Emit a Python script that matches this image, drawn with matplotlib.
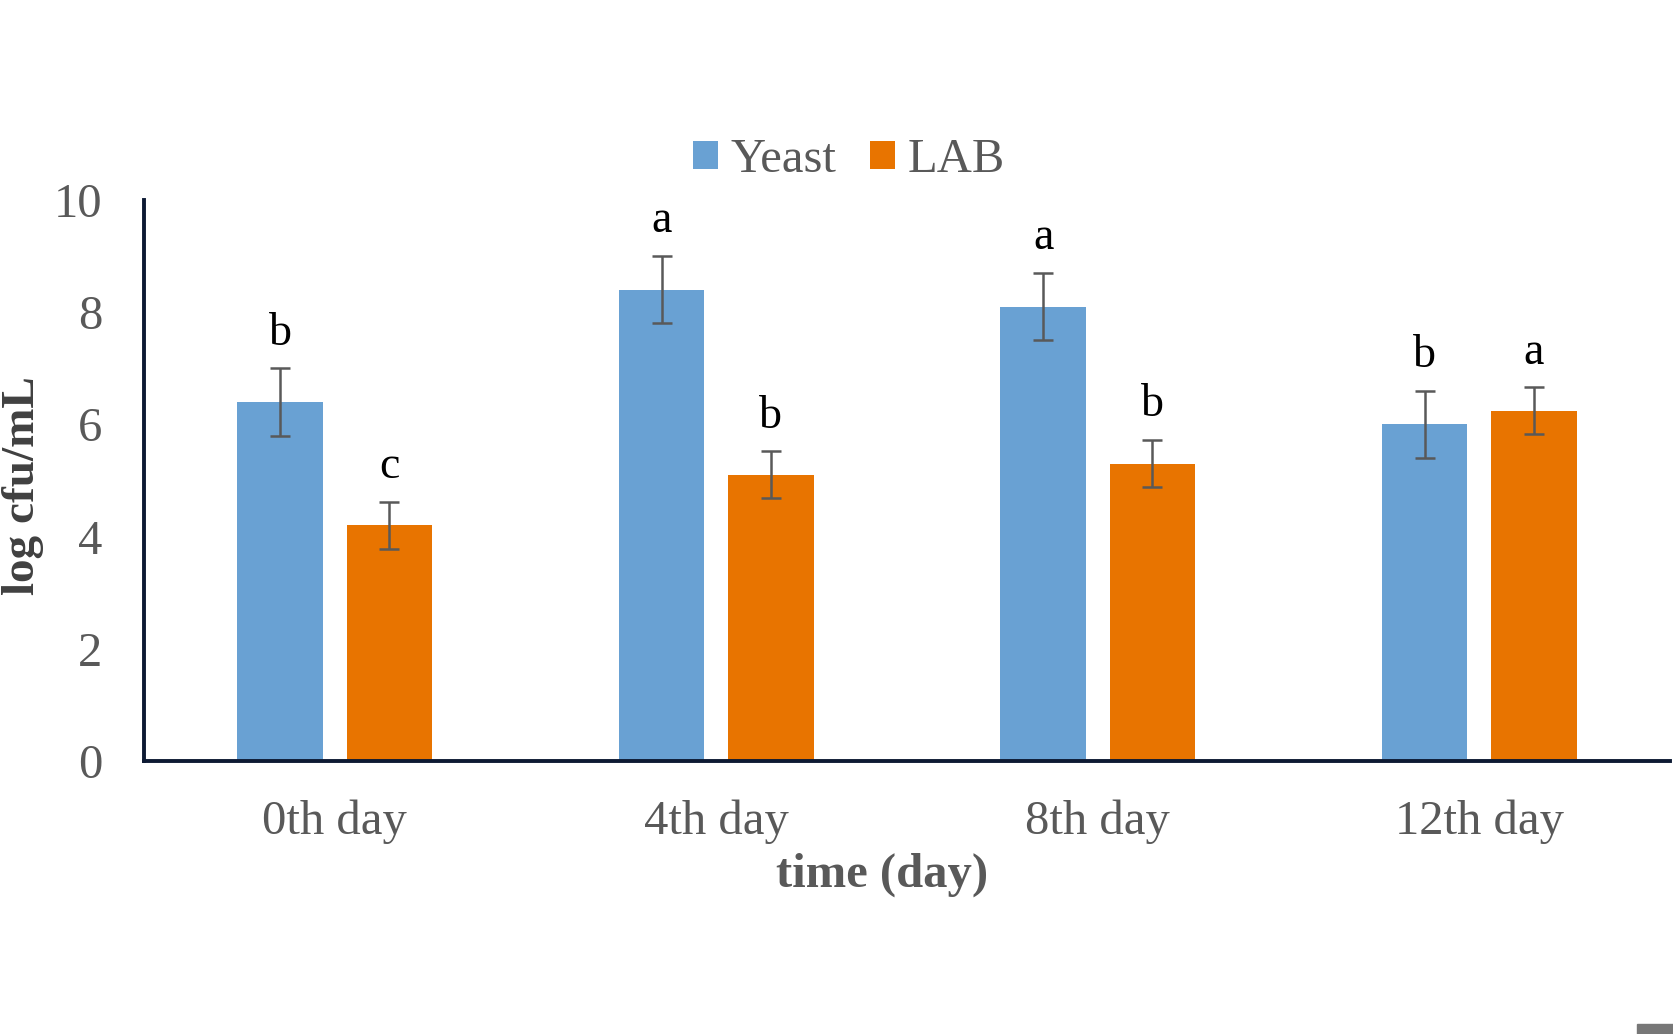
import matplotlib
matplotlib.use("Agg")
import matplotlib.pyplot as plt
import numpy as np
from matplotlib.patches import Rectangle

# data
days = ["0th day", "4th day", "8th day", "12th day"]
yeast = [6.4, 8.4, 8.1, 6.0]
yeast_err = [0.6, 0.6, 0.6, 0.6]
lab = [4.2, 5.1, 5.3, 6.24]
lab_err = [0.42, 0.42, 0.42, 0.42]
yeast_letters = ["b", "a", "a", "b"]
lab_letters = ["c", "b", "b", "a"]

blue = "#69A1D3"
orange = "#E87400"
grey = "#595959"
serif = ["Liberation Serif", "DejaVu Serif"]

plt.rcParams["font.family"] = serif

fig = plt.figure(figsize=(16.74, 10.34), dpi=100)
ax = fig.add_axes([0.086, 0.264, 0.9116, 0.5426])

x = np.arange(len(days))
w = 0.224
off = 0.143

ax.bar(x - off, yeast, w, color=blue, label="Yeast", linewidth=0)
ax.bar(x + off, lab, w, color=orange, label="LAB", linewidth=0)
ax.errorbar(x - off, yeast, yerr=yeast_err, fmt="none", ecolor=grey,
            elinewidth=1.8, capsize=7, capthick=1.8)
ax.errorbar(x + off, lab, yerr=lab_err, fmt="none", ecolor=grey,
            elinewidth=1.8, capsize=7, capthick=1.8)

for xi, v, e, t in zip(x - off, yeast, yeast_err, yeast_letters):
    ax.annotate(t, (xi, v + e), xytext=(0, 17), textcoords="offset points",
                ha="center", va="baseline", fontsize=33, color="black")
for xi, v, e, t in zip(x + off, lab, lab_err, lab_letters):
    ax.annotate(t, (xi, v + e), xytext=(0, 17), textcoords="offset points",
                ha="center", va="baseline", fontsize=33, color="black")

ax.set_xlim(-0.5, 3.5)
ax.set_ylim(0, 10)
ax.set_yticks([0, 2, 4, 6, 8, 10])
ax.set_xticks(x)
ax.set_xticklabels(days)
ax.tick_params(axis="both", length=0, labelsize=35, labelcolor=grey)
ax.tick_params(axis="y", pad=30)
ax.tick_params(axis="x", pad=28)

for s in ["top", "right"]:
    ax.spines[s].set_visible(False)
for s in ["left", "bottom"]:
    ax.spines[s].set_color("#0d1a33")
    ax.spines[s].set_linewidth(2.8)

fig.text(23 / 1674, 1 - 486 / 1034, "log cfu/mL", rotation=90, ha="center", va="center",
         fontsize=34, fontweight="bold", color="#404040")
fig.text(882 / 1674, 1 - 875 / 1034, "time (day)", ha="center", va="center",
         fontsize=35, fontweight="bold", color=grey)

fig.legend(loc="center", bbox_to_anchor=(0.507, 0.845), ncol=2, frameon=False,
           fontsize=35, labelcolor=grey, handlelength=0.53, handleheight=0.53,
           handletextpad=0.25, columnspacing=0.68)

# small grey mark in the bottom-right corner
fig.patches.append(Rectangle((0.978, 0.0), 0.022, 0.01, transform=fig.transFigure,
                             color="#777777", zorder=0))

fig.savefig("out.png", dpi=100)
